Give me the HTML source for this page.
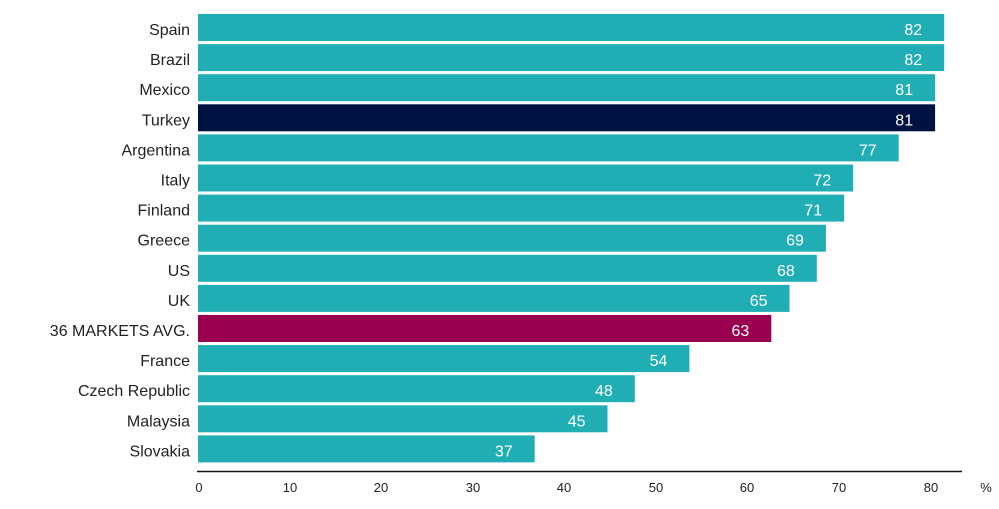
<!DOCTYPE html>
<html><head><style>
body{margin:0;background:#fff;width:999px;height:504px;overflow:hidden;font-family:"Liberation Sans",sans-serif}
.v{font-size:16px;fill:#fff;text-anchor:end}
.l{font-size:16px;fill:#222;text-anchor:end}
</style></head><body>
<svg width="999" height="504" xmlns="http://www.w3.org/2000/svg" font-family="Liberation Sans, sans-serif">
<g fill="#20aeb4">
<rect x="198" y="14" width="746.2" height="27"/>
<rect x="198" y="44.1" width="746.2" height="27"/>
<rect x="198" y="74.2" width="737.1" height="27"/>
<rect x="198" y="104.3" width="737.1" height="27" fill="#001242"/>
<rect x="198" y="134.4" width="700.7" height="27"/>
<rect x="198" y="164.5" width="655.2" height="27"/>
<rect x="198" y="194.6" width="646.1" height="27"/>
<rect x="198" y="224.7" width="627.9" height="27"/>
<rect x="198" y="254.8" width="618.8" height="27"/>
<rect x="198" y="284.9" width="591.5" height="27"/>
<rect x="198" y="315" width="573.3" height="27" fill="#990050"/>
<rect x="198" y="345.1" width="491.4" height="27"/>
<rect x="198" y="375.2" width="436.8" height="27"/>
<rect x="198" y="405.3" width="409.5" height="27"/>
<rect x="198" y="435.4" width="336.7" height="27"/>
</g>
<g transform="translate(0,1.5)">
<text class="v" x="922.2" y="33.5">82</text>
<text class="v" x="922.2" y="63.6">82</text>
<text class="v" x="913.1" y="93.7">81</text>
<text class="v" x="913.1" y="123.8">81</text>
<text class="v" x="876.7" y="153.9">77</text>
<text class="v" x="831.2" y="184">72</text>
<text class="v" x="822.1" y="214.1">71</text>
<text class="v" x="803.9" y="244.2">69</text>
<text class="v" x="794.8" y="274.3">68</text>
<text class="v" x="767.5" y="304.4">65</text>
<text class="v" x="749.3" y="334.5">63</text>
<text class="v" x="667.4" y="364.6">54</text>
<text class="v" x="612.8" y="394.7">48</text>
<text class="v" x="585.5" y="424.8">45</text>
<text class="v" x="512.7" y="454.9">37</text>
<text class="l" x="190" y="33.5">Spain</text>
<text class="l" x="190" y="63.6">Brazil</text>
<text class="l" x="190" y="93.7">Mexico</text>
<text class="l" x="190" y="123.8">Turkey</text>
<text class="l" x="190" y="153.9">Argentina</text>
<text class="l" x="190" y="184">Italy</text>
<text class="l" x="190" y="214.1">Finland</text>
<text class="l" x="190" y="244.2">Greece</text>
<text class="l" x="190" y="274.3">US</text>
<text class="l" x="190" y="304.4">UK</text>
<text class="l" x="190" y="334.5">36 MARKETS AVG.</text>
<text class="l" x="190" y="364.6">France</text>
<text class="l" x="190" y="394.7">Czech Republic</text>
<text class="l" x="190" y="424.8">Malaysia</text>
<text class="l" x="190" y="454.9">Slovakia</text>
</g>
<line x1="197" y1="471.5" x2="962" y2="471.5" stroke="#111" stroke-width="1.5"/>
<g font-size="13" fill="#222" text-anchor="middle">
<text x="199" y="492">0</text><text x="290" y="492">10</text><text x="381" y="492">20</text>
<text x="473" y="492">30</text><text x="564" y="492">40</text><text x="656" y="492">50</text>
<text x="747" y="492">60</text><text x="839" y="492">70</text><text x="931" y="492">80</text>
<text x="986" y="492">%</text>
</g>
</svg>
</body></html>
